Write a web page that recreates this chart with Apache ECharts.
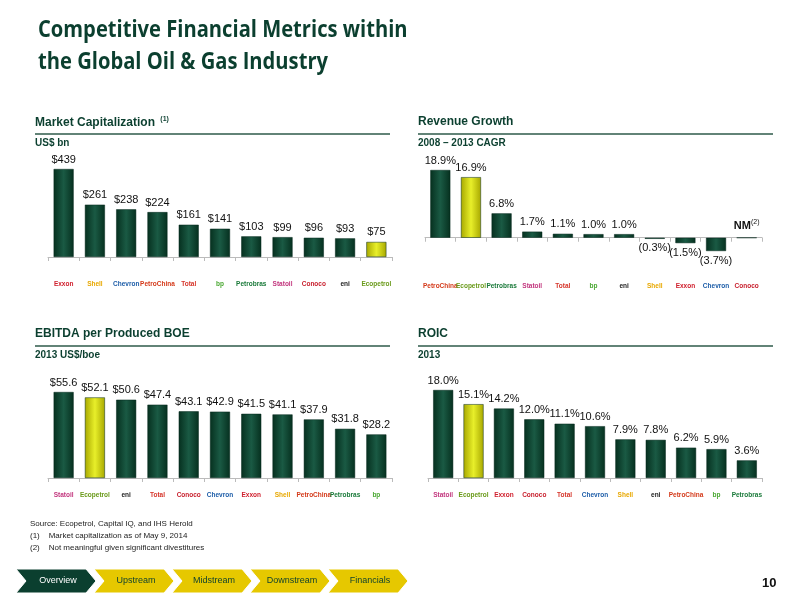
<!DOCTYPE html>
<html><head><meta charset="utf-8">
<script src="https://cdn.jsdelivr.net/npm/echarts@6/dist/echarts.min.js"></script>
<style>html,body{margin:0;padding:0;background:#fff}#c{width:800px;height:600px}</style>
</head><body><div id="c"></div>
<script>
// 数据
var capNames = ['Exxon','Shell','Chevron','PetroChina','Total','bp','Petrobras','Statoil','Conoco','eni','Ecopetrol'];
var capValues = [439,261,238,224,161,141,103,99,96,93,75];
var revNames = ['PetroChina','Ecopetrol','Petrobras','Statoil','Total','bp','eni','Shell','Exxon','Chevron','Conoco'];
var revValues = [18.9,16.9,6.8,1.7,1.1,1.0,1.0,-0.3,-1.5,-3.7,0];
var ebitdaNames = ['Statoil','Ecopetrol','eni','Total','Conoco','Chevron','Exxon','Shell','PetroChina','Petrobras','bp'];
var ebitdaValues = [55.6,52.1,50.6,47.4,43.1,42.9,41.5,41.1,37.9,31.8,28.2];
var roicNames = ['Statoil','Ecopetrol','Exxon','Conoco','Total','Chevron','Shell','eni','PetroChina','bp','Petrobras'];
var roicValues = [18.0,15.1,14.2,12.0,11.1,10.6,7.9,7.8,6.2,5.9,3.6];

var logoColor = {Exxon:'#d0202e',Shell:'#e8a800',Chevron:'#1d5da8',PetroChina:'#d43a1a',Total:'#d6352a',bp:'#4aa832',
  Petrobras:'#1a7a3a',Statoil:'#c2357d',Conoco:'#c8202e',eni:'#222222',Ecopetrol:'#6a9a1a'};
var rich = {};
Object.keys(logoColor).forEach(function(k, i){ rich['c'+i] = {color: logoColor[k], fontSize: 6.5, fontWeight: 'bold', fontFamily: 'Liberation Sans'}; });
function logo(v){ var i = Object.keys(logoColor).indexOf(v); return '{c'+i+'|'+v+'}'; }

function barFill(hi){
  var a = hi ? '#a8a800' : '#06301f', b = hi ? '#e8ef2a' : '#1a5a44';
  return new echarts.graphic.LinearGradient(0,0,1,0,[{offset:0,color:a},{offset:0.5,color:b},{offset:1,color:a}]);
}
function seriesData(names, vals){
  return vals.map(function(v,i){ return {value:v, itemStyle:{color:barFill(names[i]==='Ecopetrol'), borderColor:'#02261a', borderWidth:0.5}}; });
}
function pct(v){ return v < 0 ? '(' + Math.abs(v).toFixed(1) + '%)' : v.toFixed(1) + '%'; }

var grids = [
  {left:48, width:344, top:169, height:88},
  {left:425, width:337, top:170, height:81},
  {left:48, width:344, top:392, height:86},
  {left:428, width:334, top:390, height:88}
];
var yRanges = [[0,439],[-3.7,18.9],[0,55.6],[0,18]];
var names = [capNames, revNames, ebitdaNames, roicNames];
var vals = [capValues, revValues, ebitdaValues, roicValues];
var fmts = [
  function(p){ return '$' + p.value; },
  function(p){ return p.dataIndex === 10 ? '{nm|NM}{sup|(2)}' : pct(p.value); },
  function(p){ return '$' + p.value.toFixed(1); },
  function(p){ return pct(p.value); }
];
var logoMargin = [24, 32, 14, 14];

var xAxes = [], yAxes = [], series = [];
for (var g = 0; g < 4; g++) {
  xAxes.push({type:'category', gridIndex:g, data:names[g],
    axisLine:{lineStyle:{color:'#bbbbbb'}}, axisTick:{show:true, lineStyle:{color:'#bbbbbb'}, length:4},
    axisLabel:{interval:0, margin:logoMargin[g], formatter:logo, rich:rich}});
  yAxes.push({type:'value', gridIndex:g, min:yRanges[g][0], max:yRanges[g][1], show:false, splitLine:{show:false}});
  series.push({type:'bar', xAxisIndex:g, yAxisIndex:g, barWidth:20, data:seriesData(names[g], vals[g]),
    label:{show:true, position:'top', distance:4, color:'#111', fontSize:11, fontFamily:'Liberation Sans', formatter:fmts[g],
      rich:{nm:{fontSize:11,fontWeight:'bold',color:'#111'}, sup:{fontSize:7,verticalAlign:'top',color:'#111',padding:[0,0,6,0]}}}
  });
}
// negative labels below bars
series[1].data.forEach(function(d,i){
  if (revValues[i] < 0) d.label = {position:'bottom'};
  if (i === 10) d.label = {position:'insideBottom', offset:[0,-2]};
});

function header(x, y, w, t, sub){
  return [
    {type:'text', left:x, top:y, style:{text:t, rich:{s:{fontSize:7,fontWeight:'bold',fill:'#0b3f2f',verticalAlign:'top',padding:[0,0,6,2]}}, font:'bold 12px "Liberation Sans"', fill:'#0b3f2f'}},
    {type:'line', shape:{x1:x, y1:y+18, x2:x+w, y2:y+18}, style:{stroke:'#2e5a4a', lineWidth:1.5}},
    {type:'text', left:x, top:y+22, style:{text:sub, font:'bold 10px "Liberation Sans"', fill:'#0b3f2f'}}
  ];
}

var tabs = ['Overview','Upstream','Midstream','Downstream','Financials'];
var tabGraphics = tabs.map(function(t,i){
  var x = 16 + i*78, y = 569, h = 24, w = 80;
  return {type:'group', children:[
    {type:'polygon', shape:{points:[[x,y],[x+w-10,y],[x+w,y+h/2],[x+w-10,y+h],[x,y+h],[x+10,y+h/2]]},
      style:{fill: i===0 ? '#0b3f2f' : '#e6c800', stroke:'#fff', lineWidth:1}},
    {type:'text', x:x+w/2+2, y:y+h/2, style:{text:t, font:'9px "Liberation Sans"', fill: i===0 ? '#fff' : '#0b3f2f', align:'center', verticalAlign:'middle'}}
  ]};
});

var graphics = [
  {type:'text', x:38, y:14, scaleX:0.84, style:{text:'Competitive Financial Metrics within\nthe Global Oil & Gas Industry', font:'bold 24px "Open Sans"', fill:'#0b3f2f', lineHeight:32}}
].concat(header(35,116,355,'Market Capitalization {s|(1)}','US$ bn'))
 .concat(header(418,116,355,'Revenue Growth','2008 – 2013 CAGR'))
 .concat(header(35,328,355,'EBITDA per Produced BOE','2013 US$/boe'))
 .concat(header(418,328,355,'ROIC','2013'))
 .concat([
  {type:'text', left:30, top:520, style:{text:'Source: Ecopetrol, Capital IQ, and IHS Herold', font:'8px "Liberation Sans"', fill:'#222'}},
  {type:'text', left:30, top:532, style:{text:'(1)    Market capitalization as of May 9, 2014', font:'8px "Liberation Sans"', fill:'#222'}},
  {type:'text', left:30, top:544, style:{text:'(2)    Not meaningful given significant divestitures', font:'8px "Liberation Sans"', fill:'#222'}},
  {type:'text', left:762, top:577, style:{text:'10', font:'bold 13px "Liberation Sans"', fill:'#111'}}
 ]).concat(tabGraphics);

var chart = echarts.init(document.getElementById('c'));
chart.setOption({
  animation:false,
  grid:grids, xAxis:xAxes, yAxis:yAxes, series:series, graphic:graphics
});
</script></body></html>
